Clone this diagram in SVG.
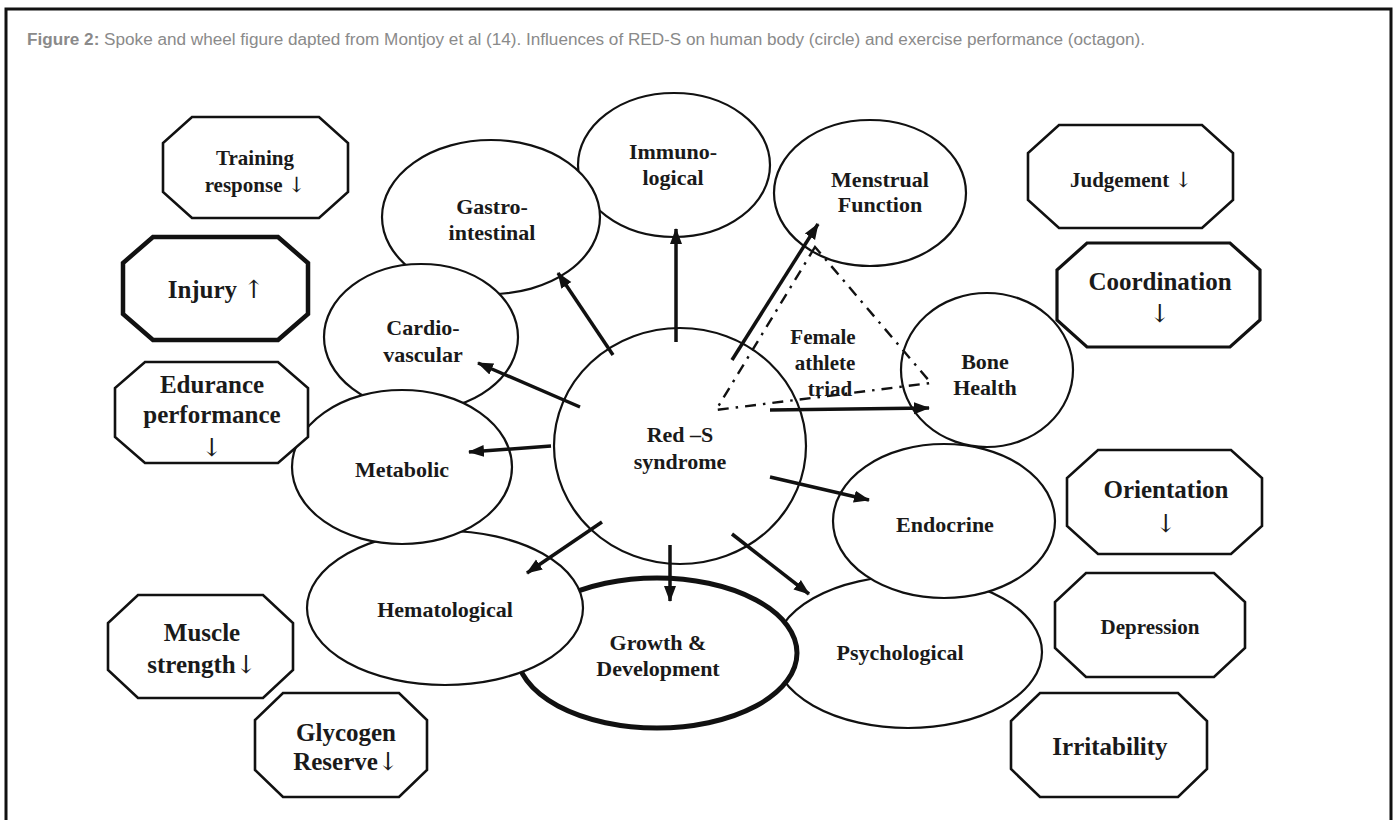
<svg xmlns="http://www.w3.org/2000/svg" width="1394" height="820" viewBox="0 0 1394 820">
<defs>
<style>
.bg{fill:#fff}
.frame{fill:none;stroke:#111;stroke-width:3}
.cap{font-family:"Liberation Sans",Arial,sans-serif;font-size:16px;fill:#8a8a8a}
.capb{font-weight:bold}
.ell{fill:#fff;stroke:#111;stroke-width:2.2}
.thick{stroke-width:5}
.oct{fill:#fff;stroke:#111;stroke-width:2.6;stroke-linejoin:miter}
.oct.b4{stroke-width:4.5}
.oct.b3{stroke-width:3.2}
.t{font-family:"Liberation Serif","DejaVu Serif","Times New Roman",serif;font-weight:bold;fill:#1a1a1a;text-anchor:middle}
.ar{font-family:"DejaVu Serif","Liberation Serif",serif;font-weight:normal}
.s21{font-size:21px}
.s22{font-size:22px}
.s25{font-size:25px}
.arr{stroke:#111;stroke-width:3.5;fill:none;marker-end:url(#ah)}
.tri{fill:none;stroke:#111;stroke-width:2.4;stroke-dasharray:11 7 2.5 7}
</style>
<marker id="ah" markerUnits="userSpaceOnUse" markerWidth="18" markerHeight="14" refX="15" refY="7" orient="auto">
<path d="M0,1 L16,7 L0,13 z" fill="#111"/>
</marker>
</defs>
<rect class="bg" x="0" y="0" width="1394" height="820"/>
<path class="frame" d="M6,820 L6,9 L1391,9 L1391,820"/>
<text class="cap" x="27" y="45" textLength="1118" lengthAdjust="spacingAndGlyphs"><tspan class="capb">Figure 2:</tspan> Spoke and wheel figure dapted from Montjoy et al (14). Influences of RED-S on human body (circle) and exercise performance (octagon).</text>

<g id="immunological"><ellipse class="ell" cx="674" cy="165" rx="96" ry="72"/><text class="t s22" x="673" y="159">Immuno-</text><text class="t s22" x="673" y="185">logical</text></g>
<g id="gastrointestinal"><ellipse class="ell" cx="491" cy="217" rx="109" ry="77"/><text class="t s22" x="492" y="214">Gastro-</text><text class="t s22" x="492" y="240">intestinal</text></g>
<g id="cardiovascular"><ellipse class="ell" cx="421" cy="337" rx="97" ry="73"/><text class="t s22" x="423" y="335">Cardio-</text><text class="t s22" x="423" y="362">vascular</text></g>
<g id="psychological"><ellipse class="ell" cx="908" cy="652" rx="134" ry="76"/><text class="t s22" x="900" y="660">Psychological</text></g>
<g id="growth"><ellipse class="ell thick" cx="657" cy="653" rx="140" ry="75"/><text class="t s22" x="658" y="650">Growth &amp;</text><text class="t s22" x="658" y="676">Development</text></g>
<g id="hematological"><ellipse class="ell" cx="445" cy="608" rx="138" ry="77"/><text class="t s22" x="445" y="617">Hematological</text></g>
<g id="metabolic"><ellipse class="ell" cx="402" cy="467" rx="110" ry="77"/><text class="t s22" x="402" y="477">Metabolic</text></g>
<g id="endocrine"><ellipse class="ell" cx="944" cy="521" rx="111" ry="77"/><text class="t s22" x="945" y="532">Endocrine</text></g>
<g id="bonehealth"><ellipse class="ell" cx="987" cy="370" rx="86" ry="77"/><text class="t s22" x="985" y="369">Bone</text><text class="t s22" x="985" y="395">Health</text></g>
<g id="menstrual"><ellipse class="ell" cx="870" cy="193" rx="96" ry="73"/><text class="t s22" x="880" y="187">Menstrual</text><text class="t s22" x="880" y="212">Function</text></g>
<g id="reds"><ellipse class="ell" cx="680" cy="446" rx="126" ry="118"/><text class="t s22" x="680" y="442">Red –S</text><text class="t s22" x="680" y="469">syndrome</text></g>

<g id="training"><polygon class="oct" points="192,117 319,117 348,143 348,192 319,218 192,218 163,192 163,143"/><text class="t s21" x="255" y="165">Training</text><text class="t s21" x="255" y="192">response <tspan class="ar">↓</tspan></text></g>
<g id="injury"><polygon class="oct b4" points="153,237 278,237 308,263 308,314 278,340 153,340 123,314 123,263"/><text class="t s25" x="216" y="298">Injury <tspan class="ar">↑</tspan></text></g>
<g id="endurance"><polygon class="oct" points="145,362 278,362 308,388 308,437 278,463 145,463 115,437 115,388"/><text class="t s25" x="212" y="393">Edurance</text><text class="t s25" x="212" y="423">performance</text><text class="t s25 ar" x="212" y="456">↓</text></g>
<g id="muscle"><polygon class="oct" points="138,595 263,595 293,623 293,670 263,698 138,698 108,670 108,623"/><text class="t s25" x="202" y="641">Muscle</text><text class="t s25" x="202" y="673">strength<tspan class="ar">↓</tspan></text></g>
<g id="glycogen"><polygon class="oct" points="283,693 399,693 427,720 427,770 399,797 283,797 255,770 255,720"/><text class="t s25" x="346" y="741">Glycogen</text><text class="t s25" x="346" y="770">Reserve<tspan class="ar">↓</tspan></text></g>
<g id="judgement"><polygon class="oct" points="1059,125 1202,125 1233,153 1233,200 1202,228 1059,228 1028,200 1028,153"/><text class="t s21" x="1131" y="187">Judgement <tspan class="ar">↓</tspan></text></g>
<g id="coordination"><polygon class="oct b3" points="1087,243 1230,243 1260,270 1260,320 1230,347 1087,347 1057,320 1057,270"/><text class="t s25" x="1160" y="290">Coordination</text><text class="t s25 ar" x="1160" y="322">↓</text></g>
<g id="orientation"><polygon class="oct" points="1098,450 1231,450 1262,478 1262,526 1231,554 1098,554 1067,526 1067,478"/><text class="t s25" x="1166" y="498">Orientation</text><text class="t s25 ar" x="1166" y="532">↓</text></g>
<g id="depression"><polygon class="oct" points="1086,573 1214,573 1245,602 1245,648 1214,677 1086,677 1055,648 1055,602"/><text class="t s21" x="1150" y="634">Depression</text></g>
<g id="irritability"><polygon class="oct" points="1040,693 1178,693 1207,721 1207,769 1178,797 1040,797 1011,769 1011,721"/><text class="t s25" x="1110" y="755">Irritability</text></g>

<g id="triad"><polygon class="tri" points="815,247 716,410 931,383"/><text class="t s21" x="823" y="344">Female</text><text class="t s21" x="825" y="370">athlete</text><text class="t s21" x="830" y="396">triad</text></g>

<g id="connectors">
<line class="arr" x1="676" y1="342" x2="676" y2="229"/>
<line class="arr" x1="613" y1="355" x2="558" y2="273"/>
<line class="arr" x1="580" y1="407" x2="478" y2="363"/>
<line class="arr" x1="551" y1="446" x2="469" y2="452"/>
<line class="arr" x1="602" y1="522" x2="527" y2="573"/>
<line class="arr" x1="670" y1="545" x2="670" y2="601"/>
<line class="arr" x1="732" y1="534" x2="809" y2="594"/>
<line class="arr" x1="770" y1="477" x2="869" y2="500"/>
<line class="arr" x1="770" y1="410" x2="929" y2="408"/>
<line class="arr" x1="732" y1="360" x2="818" y2="224"/>
</g>
</svg>
